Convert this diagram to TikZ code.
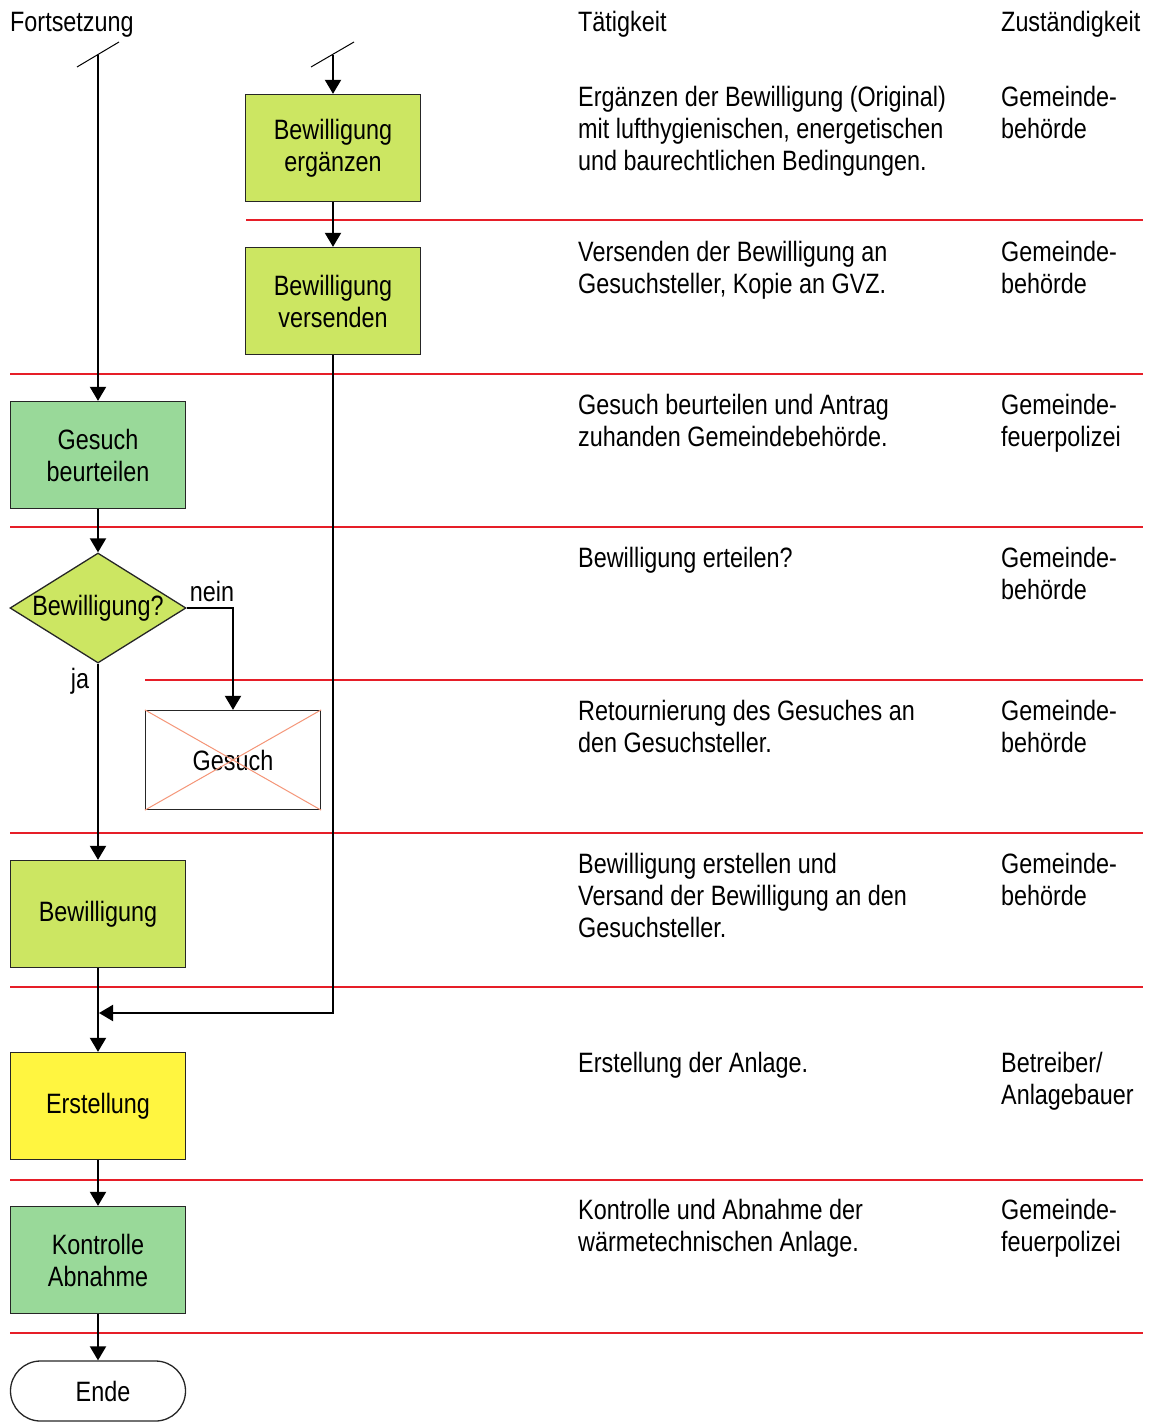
\documentclass[tikz,border=0pt]{standalone}
\usepackage{fontspec}
\setmainfont{Liberation Sans}[FakeStretch=0.835]
\usepackage{tikz}
\usetikzlibrary{arrows.meta,shapes.geometric,shapes.misc}
\definecolor{lime}{RGB}{204,230,98}
\definecolor{leaf}{RGB}{153,217,153}
\definecolor{sun}{RGB}{255,245,64}
\definecolor{rowline}{RGB}{230,30,40}
\definecolor{salmon}{RGB}{245,150,120}
\newcommand{\fs}{\fontsize{28}{32}\selectfont}
\tikzset{
  box/.style={draw=black!85, line width=1.3pt, minimum width=175pt, minimum height=107pt,
    inner sep=0pt, align=center, font=\fs},
  info/.style={anchor=base west, align=left, inner sep=0pt, font=\fs},
  flow/.style={->, line width=2pt},
  sep/.style={rowline, line width=1.4pt}
}

\begin{document}
\begin{tikzpicture}[x=1pt, y=-1pt, >={Triangle[length=14pt,width=16pt]}]
\useasboundingbox (0,0) rectangle (1150,1423);
% headings
\node[info] (hfort) at (10,32) {Fortsetzung};
\node[info] (htaet) at (578,32) {Tätigkeit};
\node[info] (hzust) at (1001,32) {Zuständigkeit};
% row separators
\draw[sep] (246,220) -- (1143,220);
\draw[sep] (10,374) -- (1143,374);
\draw[sep] (10,527) -- (1143,527);
\draw[sep] (145,680) -- (1143,680);
\draw[sep] (10,833) -- (1143,833);
\draw[sep] (10,987) -- (1143,987);
\draw[sep] (10,1180) -- (1143,1180);
\draw[sep] (10,1333) -- (1143,1333);
% flow chart
\node[box, fill=lime] (erg) at (333,148) {Bewilligung\\ergänzen};
\node[box, fill=lime] (vers) at (333,301) {Bewilligung\\versenden};
\node[box, fill=leaf] (beurt) at (98,455) {Gesuch\\beurteilen};
\node[diamond, draw=black!85, line width=1.3pt, fill=lime, inner sep=0pt, aspect=1.6,
  minimum width=176pt, minimum height=110pt, font=\fs] (frage) at (98,608) {Bewilligung?};
\node[box, fill=white, minimum height=99pt] (gesuch) at (233,760) {Gesuch};
\node[box, fill=lime] (bew) at (98,914) {Bewilligung};
\node[box, fill=sun] (erst) at (98,1106) {Erstellung};
\node[box, fill=leaf] (kontr) at (98,1260) {Kontrolle\\Abnahme};
\node[rounded rectangle, draw=black!85, line width=1.3pt, minimum width=175pt,
  minimum height=60pt, inner sep=0pt, font=\fs] (ende) at (98,1391) {\hspace{10pt}Ende};
\draw[salmon, line width=1pt] (gesuch.north west) -- (gesuch.south east);
\draw[salmon, line width=1pt] (gesuch.south west) -- (gesuch.north east);
% continuation marks
\coordinate (fort) at (98,55);
\coordinate (start) at (333,55);
\coordinate (merge) at (99,1013);
\draw[line width=1pt] (77,67) -- (119,42);
\draw[line width=1pt] (311,67) -- (354,42);
% connectors
\draw[flow] (fort) -- (beurt);
\draw[flow] (start) -- (erg);
\draw[flow] (erg) -- (vers);
\draw[flow] (beurt) -- (frage);
\draw[flow] (frage.east) -| (gesuch.north);
\draw[flow] (frage.south) -- (bew);
\draw[flow] (vers.south) |- (merge);
\draw[flow] (bew) -- (erst);
\draw[flow] (erst) -- (kontr);
\draw[flow] (kontr) -- (ende);
\node[font=\fs, inner sep=0pt] (nein) at (212,591) {nein};
\node[font=\fs, inner sep=0pt] (ja) at (80,681) {ja};
% activities (base = last line)
\node[info] (t1) at (578,171) {Ergänzen der Bewilligung (Original)\\mit lufthygienischen, energetischen\\und baurechtlichen Bedingungen.};
\node[info] (t2) at (578,293) {Versenden der Bewilligung an\\Gesuchsteller, Kopie an GVZ.};
\node[info] (t3) at (578,446) {Gesuch beurteilen und Antrag\\zuhanden Gemeindebehörde.};
\node[info] (t4) at (578,567) {Bewilligung erteilen?};
\node[info] (t5) at (578,752) {Retournierung des Gesuches an\\den Gesuchsteller.};
\node[info] (t6) at (578,937) {Bewilligung erstellen und\\Versand der Bewilligung an den\\Gesuchsteller.};
\node[info] (t7) at (578,1072) {Erstellung der Anlage.};
\node[info] (t8) at (578,1251) {Kontrolle und Abnahme der\\wärmetechnischen Anlage.};
% responsibilities
\node[info] (z1) at (1001,139) {Gemeinde-\\behörde};
\node[info] (z2) at (1001,293) {Gemeinde-\\behörde};
\node[info] (z3) at (1001,446) {Gemeinde-\\feuerpolizei};
\node[info] (z4) at (1001,599) {Gemeinde-\\behörde};
\node[info] (z5) at (1001,752) {Gemeinde-\\behörde};
\node[info] (z6) at (1001,905) {Gemeinde-\\behörde};
\node[info] (z7) at (1001,1104) {Betreiber/\\Anlagebauer};
\node[info] (z8) at (1001,1251) {Gemeinde-\\feuerpolizei};
\end{tikzpicture}
\end{document}
